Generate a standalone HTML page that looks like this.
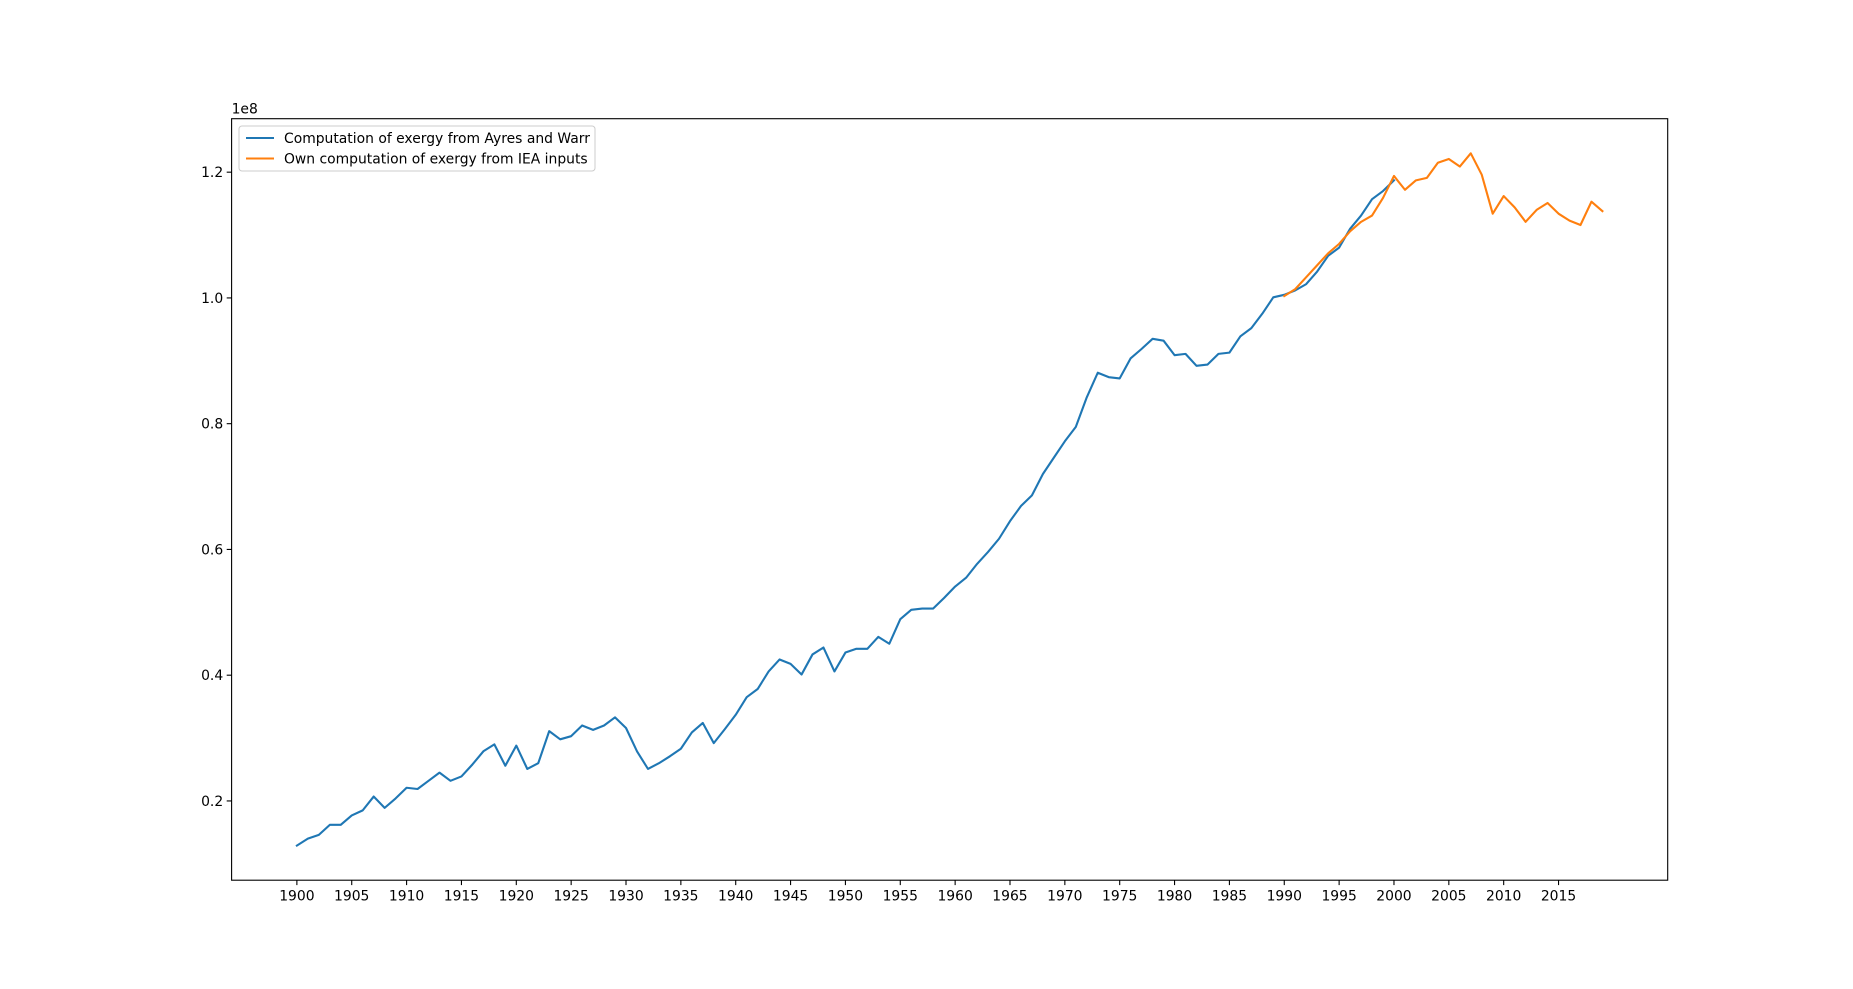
<!DOCTYPE html>
<html><head><meta charset="utf-8"><style>
html,body{margin:0;padding:0;background:#fff;}
svg{display:block;font-family:"DejaVu Sans","Liberation Sans",sans-serif;}
</style></head><body>
<svg id="chart" width="1853" height="989" viewBox="0 0 1853 989" xmlns="http://www.w3.org/2000/svg">
<rect width="1853" height="989" fill="#fff"/>
<g id="plot"></g>
</svg>
<script>
const blueYears = [];
for (let y = 1900; y <= 2000; y++) blueYears.push(y);
const blueValues = [0.129,0.140,0.146,0.162,0.162,0.177,0.185,0.207,0.189,0.204,
0.221,0.219,0.232,0.245,0.232,0.239,0.258,0.279,0.290,0.256,
0.288,0.251,0.260,0.311,0.298,0.303,0.320,0.313,0.320,0.333,
0.316,0.279,0.251,0.260,0.271,0.283,0.309,0.324,0.292,0.314,
0.337,0.365,0.378,0.406,0.425,0.418,0.401,0.433,0.444,0.406,
0.436,0.442,0.442,0.461,0.450,0.489,0.504,0.506,0.506,0.523,
0.541,0.555,0.577,0.596,0.617,0.645,0.669,0.686,0.720,0.746,
0.772,0.795,0.842,0.881,0.874,0.872,0.904,0.919,0.935,0.932,
0.909,0.911,0.892,0.894,0.911,0.913,0.939,0.952,0.975,1.001,
1.005,1.012,1.022,1.042,1.067,1.080,1.110,1.131,1.157,1.170,1.187];
const orangeYears = [];
for (let y = 1990; y <= 2019; y++) orangeYears.push(y);
const orangeValues = [1.003,1.014,1.033,1.052,1.071,1.086,1.106,1.121,1.131,1.159,
1.194,1.172,1.187,1.191,1.215,1.221,1.209,1.230,1.196,1.134,
1.162,1.144,1.121,1.140,1.151,1.134,1.123,1.116,1.153,1.138];
const xTicks = [1900,1905,1910,1915,1920,1925,1930,1935,1940,1945,1950,1955,1960,1965,1970,1975,1980,1985,1990,1995,2000,2005,2010,2015];
const yTicks = [0.2,0.4,0.6,0.8,1.0,1.2];
const yTickLabels = ["0.2","0.4","0.6","0.8","1.0","1.2"];
const legendLabels = ["Computation of exergy from Ayres and Warr","Own computation of exergy from IEA inputs"];

const L=231.6,R=1667.7,T=118.7,B=880.2;
const allX=blueYears.concat(orangeYears), allY=blueValues.concat(orangeValues);
const xmin0=Math.min(...allX), xmax0=Math.max(...allX);
const ymin0=Math.min(...allY), ymax0=Math.max(...allY);
const xm=(xmax0-xmin0)*0.05, ym=(ymax0-ymin0)*0.05;
const X0=xmin0-xm, X1=xmax0+xm, Y0=ymin0-ym, Y1=ymax0+ym;
const sx=v=>L+(v-X0)/(X1-X0)*(R-L);
const sy=v=>B-(v-Y0)/(Y1-Y0)*(B-T);
const NS="http://www.w3.org/2000/svg";
const g=document.getElementById('plot');
function mk(tag,attrs,parent){const e=document.createElementNS(NS,tag);for(const k in attrs)e.setAttribute(k,attrs[k]);(parent||g).appendChild(e);return e;}

function line(xs,ys,color,name){
  const p=mk('polyline',{points:xs.map((x,i)=>sx(x).toFixed(2)+','+sy(ys[i]).toFixed(2)).join(' '),fill:'none',stroke:color,'stroke-width':2.1,'stroke-linejoin':'round','stroke-linecap':'square'});
  
  
}
line(blueYears,blueValues,'#1f77b4','series-ayres-warr');
line(orangeYears,orangeValues,'#ff7f0e','series-iea');

const frame=mk('rect',{x:L,y:T,width:R-L,height:B-T,fill:'none',stroke:'#000','stroke-width':1.1});



xTicks.forEach(t=>{
  const x=sx(t);
  const tk=mk('line',{x1:x,x2:x,y1:B,y2:B+4.9,stroke:'#000','stroke-width':1.1});
  
  
  const tx=mk('text',{x:x,y:B+20.5,'font-size':13.9,'text-anchor':'middle',fill:'#000'});
  tx.textContent=t;
  
  
});
yTicks.forEach((t,i)=>{
  const y=sy(t);
  const tk=mk('line',{x1:L-4.9,x2:L,y1:y,y2:y,stroke:'#000','stroke-width':1.1});
  
  
  const tx=mk('text',{x:L-8.4,y:y+5,'font-size':13.9,'text-anchor':'end',fill:'#000'});
  tx.textContent=yTickLabels[i];
  
  
});
const off=mk('text',{x:L,y:T-5,'font-size':13.9,fill:'#000'});
off.textContent='1e8';



const lg=mk('g',{});


mk('rect',{x:239,y:126,width:356,height:45,rx:3,fill:'#fff','fill-opacity':0.8,stroke:'#ccc','stroke-width':1},lg);
const colors=['#1f77b4','#ff7f0e'];
legendLabels.forEach((lab,i)=>{
  const yy=138+i*20.5;
  const h=mk('line',{x1:246,x2:274,y1:yy,y2:yy,stroke:colors[i],'stroke-width':2.1},lg);
  
  
  const t=mk('text',{x:284,y:yy+5,'font-size':13.9,fill:'#000'},lg);
  t.textContent=lab;
  
  
});
</script>
</body></html>
